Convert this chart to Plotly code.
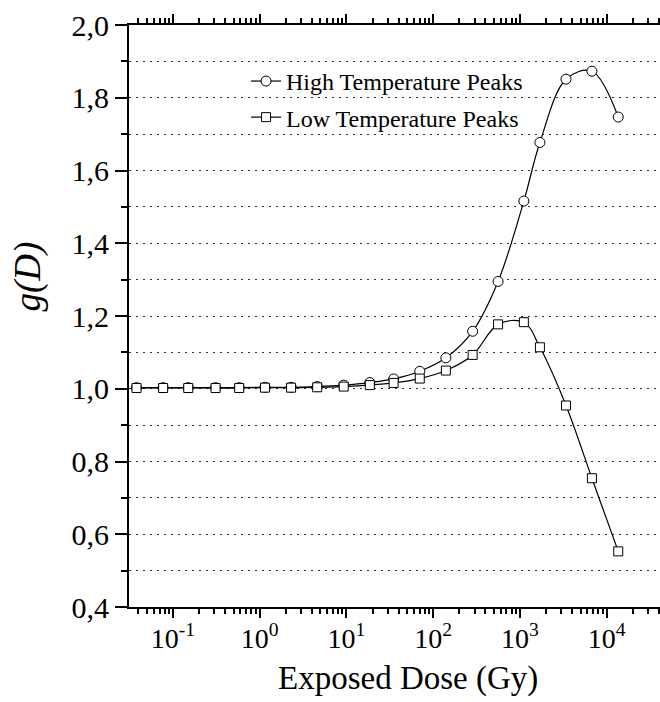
import plotly.graph_objects as go

# ---- data ----
dose_gy = [0.038, 0.077, 0.15, 0.31, 0.58, 1.15, 2.3, 4.6, 9.3, 18.6,
           35, 70, 140, 285, 560, 1110, 1700, 3400, 6760, 13600]
g_high = [1.003, 1.003, 1.003, 1.003, 1.003, 1.004, 1.004, 1.006, 1.010, 1.017,
          1.027, 1.048, 1.085, 1.158, 1.295, 1.516, 1.677, 1.851, 1.873, 1.747]
g_low = [1.002, 1.002, 1.002, 1.002, 1.002, 1.003, 1.003, 1.004, 1.006, 1.010,
         1.016, 1.028, 1.050, 1.093, 1.177, 1.183, 1.114, 0.954, 0.754, 0.553]
series_names = ["High Temperature Peaks", "Low Temperature Peaks"]

x_tick_vals = [0.1, 1, 10, 100, 1000, 10000]
x_tick_text = ["10<sup>-1</sup>", "10<sup>0</sup>", "10<sup>1</sup>",
               "10<sup>2</sup>", "10<sup>3</sup>", "10<sup>4</sup>"]
x_minor_mult = [2, 3, 4, 5, 6, 7, 8, 9]
x_minor_decades = [0.01, 0.1, 1, 10, 100, 1000, 10000]
y_tick_vals = [0.4, 0.6, 0.8, 1.0, 1.2, 1.4, 1.6, 1.8, 2.0]
y_tick_text = ["0,4", "0,6", "0,8", "1,0", "1,2", "1,4", "1,6", "1,8", "2,0"]
x_title = "Exposed Dose (Gy)"
y_title = "<i>g(D)</i>"

x_minor_vals = [m * d for d in x_minor_decades for m in x_minor_mult]

FONT = "Liberation Serif"
x_range = [-1.507, 4.615]
y_range = [0.4, 2.0]

fig = go.Figure()
fig.add_trace(go.Scatter(
    x=dose_gy, y=g_high, name=series_names[0], mode="lines+markers",
    line=dict(color="black", width=1.2, shape="spline"),
    marker=dict(symbol="circle", size=10, color="white",
                line=dict(color="black", width=1)),
    legend="legend", showlegend=True))
fig.add_trace(go.Scatter(
    x=dose_gy, y=g_low, name=series_names[1], mode="lines+markers",
    line=dict(color="black", width=1.2, shape="spline"),
    marker=dict(symbol="square", size=9, color="white",
                line=dict(color="black", width=1)),
    legend="legend2", showlegend=True))

fig.update_layout(
    width=660, height=702,
    margin=dict(l=129, r=0, t=25, b=95),
    plot_bgcolor="white", paper_bgcolor="white",
    showlegend=True,
    font=dict(family=FONT, color="black"),
    xaxis=dict(type="log", range=x_range, tickmode="array",
               tickvals=x_tick_vals, ticktext=x_tick_text,
               ticks="outside", ticklen=9, tickwidth=2, tickcolor="black",
               showline=True, linewidth=2, linecolor="black",
               mirror="allticks",
               showgrid=False, zeroline=False, ticklabelstandoff=-4,
               tickfont=dict(size=28, family=FONT),
               minor=dict(tickmode="array", tickvals=x_minor_vals,
                          ticks="outside", ticklen=5, tickwidth=1.5,
                          tickcolor="black", showgrid=False)),
    yaxis=dict(range=y_range, tickmode="array", tickvals=y_tick_vals,
               ticktext=y_tick_text, ticks="outside", ticklen=12,
               tickwidth=2, tickcolor="black", showline=True, linewidth=2,
               linecolor="black", showgrid=False, zeroline=False,
               tickfont=dict(size=30, family=FONT),
               minor=dict(dtick=0.1, tick0=0, ticks="outside", ticklen=6,
                          tickwidth=1.5, tickcolor="black", showgrid=True,
                          gridcolor="#333333", gridwidth=1,
                          griddash="2px,5px")),
    legend=dict(x=0.2204, y=0.903, xanchor="left", yanchor="middle",
                bgcolor="rgba(0,0,0,0)", font=dict(size=24, family=FONT)),
    legend2=dict(x=0.2204, y=0.841, xanchor="left", yanchor="middle",
                 bgcolor="rgba(0,0,0,0)", font=dict(size=24, family=FONT)),
    annotations=[
        dict(text=x_title, xref="paper", yref="paper", x=0.525, y=-0.122,
             xanchor="center", yanchor="middle", showarrow=False,
             font=dict(size=33, family=FONT)),
        dict(text=y_title, xref="paper", yref="paper", x=-0.19, y=0.568,
             xanchor="center", yanchor="middle", showarrow=False,
             textangle=-90, font=dict(size=37, family=FONT)),
    ],
)

fig.write_html("out.html", config={"displayModeBar": False},
               post_script="document.body.style.margin='0';")
